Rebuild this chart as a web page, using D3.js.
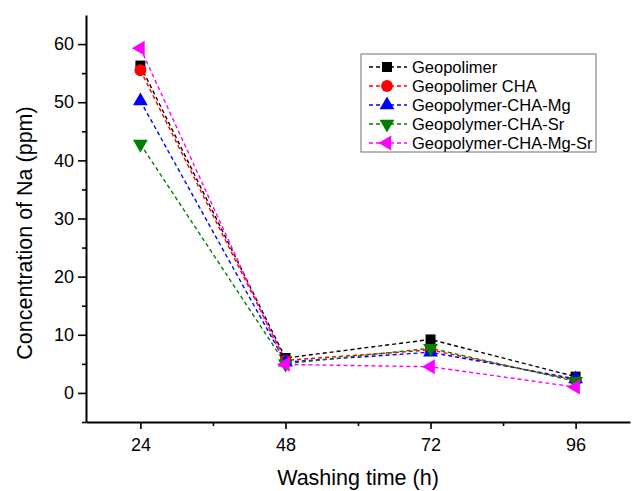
<!DOCTYPE html>
<html>
<head>
<meta charset="utf-8">
<script src="https://cdn.jsdelivr.net/npm/d3@7"></script>
<style>
  body { margin: 0; background: #fff; }
  text { font-family: "Liberation Sans", Arial, sans-serif; }
</style>
</head>
<body>
<div id="chart"></div>
<script>
// data
const hours = [24, 48, 72, 96];
const seriesNames = ["Geopolimer", "Geopolimer CHA", "Geopolymer-CHA-Mg", "Geopolymer-CHA-Sr", "Geopolymer-CHA-Mg-Sr"];
const geopolimer = [56.3, 6.0, 9.2, 2.8];
const geopolimerCha = [55.5, 5.6, 7.4, 2.2];
const chaMg = [50.2, 5.3, 7.0, 2.4];
const chaSr = [42.8, 5.0, 7.7, 2.0];
const chaMgSr = [59.3, 4.9, 4.5, 1.0];
const xTicks = [24, 48, 72, 96];
const yTicks = [0, 10, 20, 30, 40, 50, 60];

const colors = ["#000000", "#ff0000", "#0000ff", "#008000", "#ff00ff"];
const shapes = [
  { type: d3.symbolSquare, size: 100, rot: 0 },
  { type: d3.symbolCircle, size: 110, rot: 0 },
  { type: d3.symbolTriangle, size: 95, rot: 0 },
  { type: d3.symbolTriangle, size: 95, rot: 180 },
  { type: d3.symbolTriangle, size: 95, rot: -90 }
];
const allSeries = [geopolimer, geopolimerCha, chaMg, chaSr, chaMgSr];

const width = 633, height = 491;
const m = { left: 86, top: 15, right: 3, bottom: 69 };

const svg = d3.select("#chart").append("svg")
  .attr("width", width).attr("height", height);

const x = d3.scaleLinear().domain([15, 105]).range([m.left, width - m.right]);
const y = d3.scaleLinear().domain([-5, 65]).range([height - m.bottom, m.top]);

// minor ticks
svg.append("g")
  .attr("transform", `translate(0,${height - m.bottom})`)
  .call(d3.axisBottom(x).tickValues([36, 60, 84]).tickSize(4).tickFormat(""))
  .call(g => g.select(".domain").remove());
svg.append("g")
  .attr("transform", `translate(${m.left},0)`)
  .call(d3.axisLeft(y).tickValues([-5, 5, 15, 25, 35, 45, 55]).tickSize(4).tickFormat(""))
  .call(g => g.select(".domain").remove());

svg.append("g")
  .attr("transform", `translate(0,${height - m.bottom})`)
  .call(d3.axisBottom(x).tickValues(xTicks).tickSize(7).tickSizeOuter(0).tickPadding(9));
svg.append("g")
  .attr("transform", `translate(${m.left},0)`)
  .call(d3.axisLeft(y).tickValues(yTicks).tickSize(8).tickSizeOuter(0).tickPadding(4));

svg.selectAll(".domain").attr("stroke-width", 2);
svg.selectAll(".tick line").attr("stroke-width", 1.6);
svg.selectAll(".tick text").attr("font-size", 18).attr("fill", "#000")
  .attr("font-family", "Liberation Sans, Arial, sans-serif");

svg.append("text")
  .attr("x", 358).attr("y", 485)
  .attr("text-anchor", "middle").attr("font-size", 21.5)
  .text("Washing time (h)");
svg.append("text")
  .attr("transform", "translate(32,233) rotate(-90)")
  .attr("text-anchor", "middle").attr("font-size", 21.5)
  .text("Concentration of Na (ppm)");

const line = d3.line().x(d => x(d[0])).y(d => y(d[1]));

allSeries.forEach((vals, i) => {
  const pts = hours.map((h, j) => [h, vals[j]]);
  svg.append("path").datum(pts)
    .attr("d", line).attr("fill", "none")
    .attr("stroke", colors[i]).attr("stroke-width", 1.4)
    .attr("stroke-dasharray", "4,3");
});
allSeries.forEach((vals, i) => {
  const sym = d3.symbol().type(shapes[i].type).size(shapes[i].size);
  svg.append("g").selectAll("path").data(hours.map((h, j) => [h, vals[j]]))
    .join("path")
    .attr("d", sym)
    .attr("transform", d => `translate(${x(d[0])},${y(d[1])}) rotate(${shapes[i].rot})`)
    .attr("fill", colors[i]);
});

// legend
const lg = svg.append("g").attr("transform", "translate(361,54)");
lg.append("rect").attr("width", 235).attr("height", 98)
  .attr("fill", "#fff").attr("stroke", "#888").attr("stroke-width", 1.2);
seriesNames.forEach((name, i) => {
  const yy = 13 + i * 19;
  lg.append("line").attr("x1", 8).attr("x2", 46).attr("y1", yy).attr("y2", yy)
    .attr("stroke", colors[i]).attr("stroke-width", 1.4).attr("stroke-dasharray", "4,3");
  lg.append("path")
    .attr("d", d3.symbol().type(shapes[i].type).size(shapes[i].size)())
    .attr("transform", `translate(26,${yy}) rotate(${shapes[i].rot})`)
    .attr("fill", colors[i]);
  lg.append("text").attr("x", 51).attr("y", yy + 6)
    .attr("font-size", 16.5).text(name);
});
</script>
</body>
</html>
